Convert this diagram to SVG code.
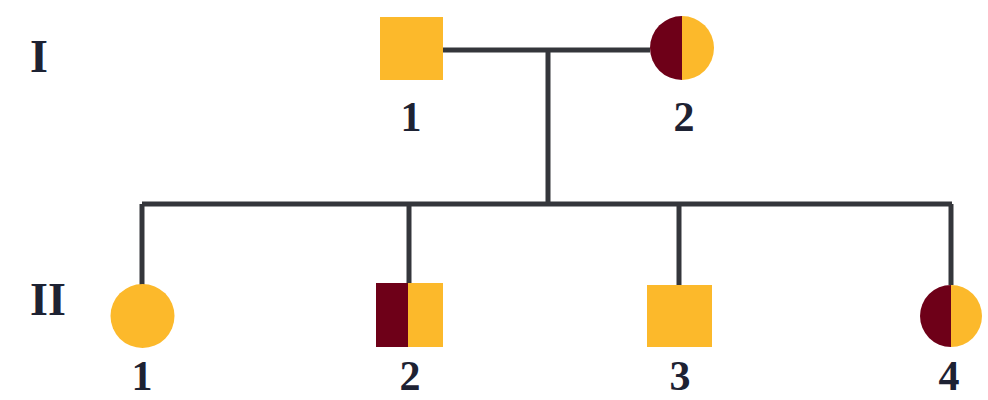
<svg xmlns="http://www.w3.org/2000/svg" width="988" height="400" viewBox="0 0 988 400">
<style>
.y{fill:#FCB92B}
.m{fill:#6E0018}
.ln{stroke:#34363b;stroke-width:5;fill:none;stroke-linecap:butt}
.t{font-family:"Liberation Serif","DejaVu Serif",serif;font-weight:bold;font-size:42px;fill:#1d2233;text-anchor:middle}
.r{font-size:46px}
</style>
<rect width="988" height="400" fill="#ffffff"/>
<g id="connectors">
<path class="ln" d="M443 50H650"/>
<path class="ln" d="M548 50V204"/>
<path class="ln" d="M142 204H952"/>
<path class="ln" d="M142 204V285"/>
<path class="ln" d="M409 204V283"/>
<path class="ln" d="M679 204V285"/>
<path class="ln" d="M951 204V285"/>
</g>
<g id="gen-labels">
<text class="t r" x="39" y="72">I</text>
<text class="t r" x="48" y="315">II</text>
</g>
<g id="I-1">
<rect class="y" x="380" y="17" width="63" height="63"/>
<text class="t" x="411" y="131">1</text>
</g>
<g id="I-2">
<path class="m" d="M682 16A32 32 0 0 0 682 80Z"/>
<path class="y" d="M682 16A32 32 0 0 1 682 80Z"/>
<text class="t" x="684" y="131">2</text>
</g>
<g id="II-1">
<circle class="y" cx="142.5" cy="316" r="32"/>
<text class="t" x="142" y="390">1</text>
</g>
<g id="II-2">
<rect class="m" x="376" y="283" width="32" height="64"/>
<rect class="y" x="408" y="283" width="35" height="64"/>
<text class="t" x="410" y="390">2</text>
</g>
<g id="II-3">
<rect class="y" x="647" y="285" width="65" height="62"/>
<text class="t" x="680" y="390">3</text>
</g>
<g id="II-4">
<path class="m" d="M951 285A31 31 0 0 0 951 347Z"/>
<path class="y" d="M951 285A31 31 0 0 1 951 347Z"/>
<text class="t" x="949" y="390">4</text>
</g>
</svg>
